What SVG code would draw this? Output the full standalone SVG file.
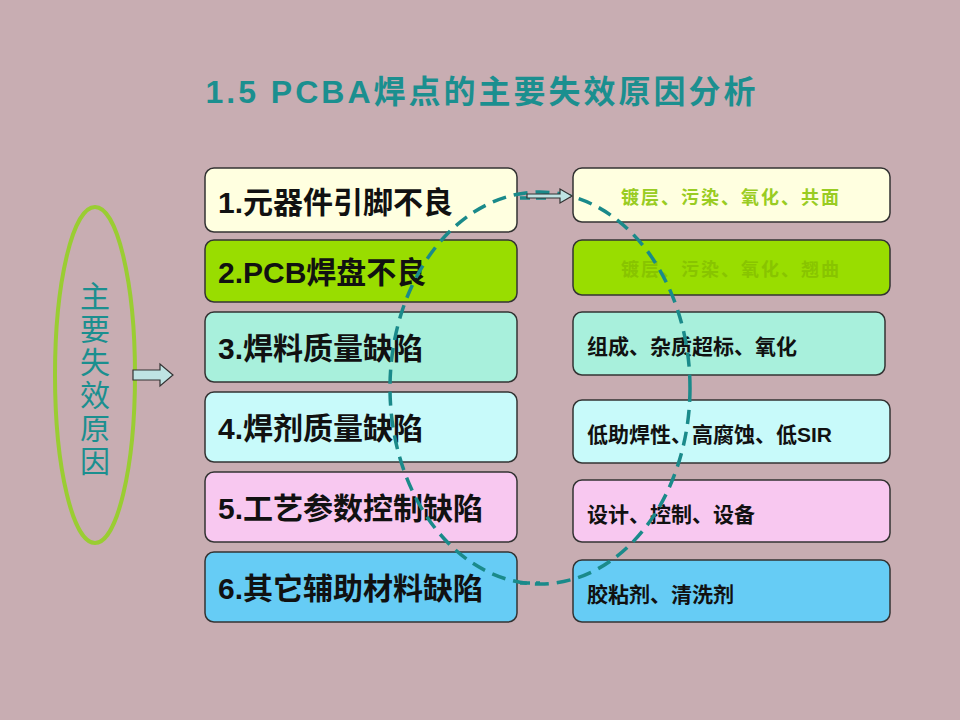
<svg xmlns="http://www.w3.org/2000/svg" width="960" height="720" viewBox="0 0 960 720">
<defs><style>
.b{stroke:#333;stroke-width:1.5}
.l{font-family:"Liberation Sans","Noto Sans CJK SC",sans-serif;font-weight:bold;font-size:30px;fill:#111}
.r{font-family:"Liberation Sans","Noto Sans CJK SC",sans-serif;font-weight:bold;font-size:21px;fill:#111}
.arr{fill:#bfe3e3;stroke:#333;stroke-width:1.2}
</style></defs>
<rect width="960" height="720" fill="#c8adb2"/>
<text x="482" y="103" text-anchor="middle" font-family="Liberation Sans,Noto Sans CJK SC,sans-serif" font-weight="bold" font-size="32" letter-spacing="3" fill="#1b8f8f">1.5 PCBA焊点的主要失效原因分析</text>
<g id="cause">
<ellipse cx="95" cy="375" rx="40" ry="168" fill="none" stroke="#9acd32" stroke-width="4"/>
<text font-family="Liberation Sans,Noto Sans CJK SC,sans-serif" font-size="30" fill="#1b8f8f" text-anchor="middle"><tspan x="95" y="307">主</tspan><tspan x="95" y="340">要</tspan><tspan x="95" y="373">失</tspan><tspan x="95" y="406">效</tspan><tspan x="95" y="439">原</tspan><tspan x="95" y="472">因</tspan></text>
</g>
<g id="n1"><rect class="b" x="205" y="168" width="312" height="64" rx="9" fill="#ffffe0"/><text class="l" x="218" y="213">1.元器件引脚不良</text></g>
<g id="n2"><rect class="b" x="205" y="240" width="312" height="62" rx="9" fill="#99dd00"/><text class="l" x="218" y="283">2.PCB焊盘不良</text></g>
<g id="n3"><rect class="b" x="205" y="312" width="312" height="70" rx="9" fill="#a8f0dc"/><text class="l" x="218" y="359">3.焊料质量缺陷</text></g>
<g id="n4"><rect class="b" x="205" y="392" width="312" height="70" rx="9" fill="#c8fafa"/><text class="l" x="218" y="439">4.焊剂质量缺陷</text></g>
<g id="n5"><rect class="b" x="205" y="472" width="312" height="70" rx="9" fill="#f8c8f0"/><text class="l" x="218" y="519">5.工艺参数控制缺陷</text></g>
<g id="n6"><rect class="b" x="205" y="552" width="312" height="70" rx="9" fill="#66ccf5"/><text class="l" x="218" y="599">6.其它辅助材料缺陷</text></g>
<g id="m1"><rect class="b" x="573" y="168" width="317" height="54" rx="9" fill="#ffffe0"/><text x="731" y="204" text-anchor="middle" font-family="Liberation Sans,Noto Sans CJK SC,sans-serif" font-weight="bold" font-size="18" letter-spacing="2" fill="#99cc22">镀层、污染、氧化、共面</text></g>
<g id="m2"><rect class="b" x="573" y="240" width="317" height="55" rx="9" fill="#99dd00"/><text x="731" y="276" text-anchor="middle" font-family="Liberation Sans,Noto Sans CJK SC,sans-serif" font-weight="bold" font-size="18" letter-spacing="2" fill="#88c400">镀层、污染、氧化、翘曲</text></g>
<g id="m3"><rect class="b" x="573" y="312" width="312" height="63" rx="9" fill="#a8f0dc"/><text class="r" x="587" y="354">组成、杂质超标、氧化</text></g>
<g id="m4"><rect class="b" x="573" y="400" width="317" height="63" rx="9" fill="#c8fafa"/><text class="r" x="587" y="442">低助焊性、高腐蚀、低SIR</text></g>
<g id="m5"><rect class="b" x="573" y="480" width="317" height="62" rx="9" fill="#f8c8f0"/><text class="r" x="587" y="522">设计、控制、设备</text></g>
<g id="m6"><rect class="b" x="573" y="560" width="317" height="62" rx="9" fill="#66ccf5"/><text class="r" x="587" y="602">胶粘剂、清洗剂</text></g>
<g id="connectors">
<ellipse cx="540" cy="388" rx="150" ry="196" fill="none" stroke="#1a8a8a" stroke-width="3.5" stroke-dasharray="14,8"/>
<path d="M520 198 H548" stroke="#1a8a8a" stroke-width="3.5" stroke-dasharray="10,6"/>
<path d="M520 583 H540" stroke="#1a8a8a" stroke-width="3.5" stroke-dasharray="10,6"/>
<path class="arr" d="M133 370 H160 V364 L173 375 L160 386 V380 H133 Z"/>
<path class="arr" d="M527 194 H560 V189 L572 196 L560 203 V198 H527 Z"/>
</g>
</svg>
